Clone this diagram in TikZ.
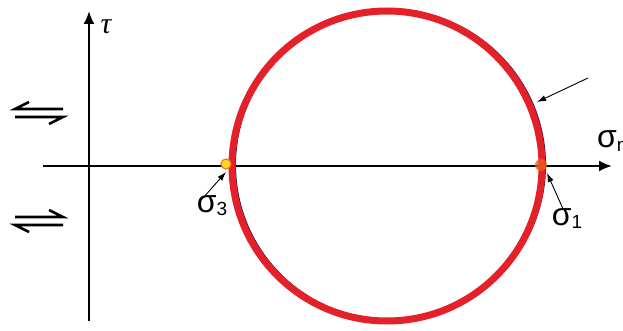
\documentclass[tikz,border=0pt]{standalone}
\usepackage{fontspec}
\newfontfamily\labelfont{Liberation Sans}
\newfontfamily\taufont{Liberation Serif}
\usetikzlibrary{arrows.meta}
\definecolor{mohrred}{RGB}{228,32,40}
\definecolor{mohrnavy}{RGB}{25,25,85}
\definecolor{dotfill}{RGB}{255,215,40}
\definecolor{dotedge}{RGB}{240,120,30}
\begin{document}
\begin{tikzpicture}[x=1pt,y=-1pt,
  axis/.style={line width=2pt,-{Latex[length=13pt,width=11pt]}},
  pointer/.style={line width=0.9pt,-{Latex[length=9pt,width=6pt]}},
  harpoon/.style={line width=2.6pt},
  siglab/.style={font=\fontsize{32}{34}\labelfont,inner sep=0pt}]
\useasboundingbox (0,0) rectangle (623,331);
% axes
\coordinate (xstart) at (43,166); \coordinate (xend) at (612,166);
\coordinate (ystart) at (89,321); \coordinate (yend) at (89,11);
\draw[axis] (xstart)--(xend);
\draw[axis] (ystart)--(yend);
\node[font=\fontsize{30}{32}\taufont\itshape,inner sep=0pt] (tau) at (106,27){τ};
\node[siglab,anchor=west] (sn) at (597,141){σ\raisebox{-4pt}{\fontsize{19}{19}\selectfont n}};
% the circle
\draw[mohrnavy,line width=2pt] (390,165) circle[radius=155pt];
\draw[mohrred,line width=7pt] (387,166) circle[radius=155pt];
\node[circle,fill=dotfill,draw=dotedge,line width=1.2pt,minimum size=10pt,inner sep=0pt] (s3dot) at (226,164){};
\node[circle,fill=dotedge!70!mohrred,opacity=.8,minimum size=12pt,inner sep=0pt] (s1dot) at (541,165){};
% labels and pointers
\node[siglab] (s3lab) at (212,206){σ\raisebox{-3pt}{\fontsize{19}{19}\selectfont 3}};
\node[siglab] (s1lab) at (567,219){σ\raisebox{-3pt}{\fontsize{19}{19}\selectfont 1}};
\coordinate (s3) at (226,172); \coordinate (s1) at (547,173);
\coordinate (rimtail) at (588,78); \coordinate (rimtip) at (537,102);
\draw[pointer] ([xshift=-7pt]s3lab.north)--(s3);
\draw[pointer] ([xshift=-4pt]s1lab.north)--(s1);
\draw[pointer] (rimtail)--(rimtip);
% shear sense
\draw[harpoon] (29,102)--(15,109)--(63,109);
\draw[harpoon] (15,117)--(63,117)--(49,124);
\draw[harpoon] (15,217)--(63,217)--(49,210);
\draw[harpoon] (63,225)--(15,225)--(29,232);
\end{tikzpicture}
\end{document}
